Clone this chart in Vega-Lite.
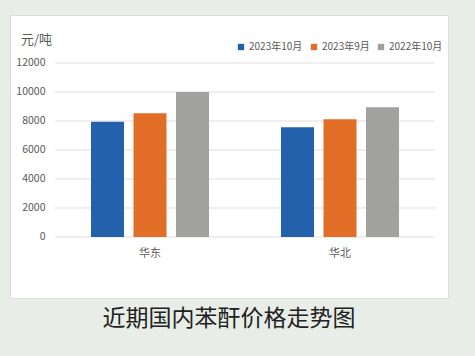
{
  "$schema": "https://vega.github.io/schema/vega-lite/v6.json",
  "width": 438,
  "height": 283,
  "autosize": {"type": "none"},
  "padding": {"left": 10, "top": 15, "right": 27, "bottom": 58},
  "background": "#E8EEE7",
  "config": {
    "font": "Noto Sans CJK SC",
    "view": {"fill": "#FFFFFF", "stroke": "#DCDCDC", "strokeWidth": 1}
  },
  "title": {
    "text": "近期国内苯酐价格走势图",
    "orient": "bottom",
    "anchor": "middle",
    "frame": "group",
    "offset": 10,
    "fontSize": 23,
    "fontWeight": "normal",
    "color": "#222222",
    "baseline": "top"
  },
  "datasets": {
    "prices": [
      {"region": "华东", "period": "2023年10月", "value": 7950},
      {"region": "华东", "period": "2023年9月", "value": 8530},
      {"region": "华东", "period": "2022年10月", "value": 10000},
      {"region": "华北", "period": "2023年10月", "value": 7570},
      {"region": "华北", "period": "2023年9月", "value": 8120},
      {"region": "华北", "period": "2022年10月", "value": 8950}
    ],
    "grid": [
      {"v": 0}, {"v": 2000}, {"v": 4000}, {"v": 6000}, {"v": 8000}, {"v": 10000}, {"v": 12000}
    ]
  },
  "encoding": {
    "x": {
      "field": "region",
      "type": "nominal",
      "scale": {"domain": ["华东", "华北"], "paddingInner": 0, "paddingOuter": 0.1526, "align": 0.776},
      "axis": {
        "title": null,
        "domain": false,
        "ticks": false,
        "tickSize": 0,
        "labelAngle": 0,
        "labelPadding": -45,
        "labelBaseline": "middle",
        "labelFontSize": 11,
        "labelColor": "#595959",
        "grid": false
      }
    }
  },
  "layer": [
    {
      "data": {"name": "grid"},
      "mark": {"type": "rule", "color": "#DEDEDE", "strokeWidth": 1},
      "encoding": {
        "x": {"datum": "华东", "type": "nominal", "bandPosition": 0},
        "x2": {"datum": "华北", "bandPosition": 1},
        "y": {
          "field": "v",
          "type": "quantitative",
          "scale": {"domain": [-4207, 15310], "nice": false, "zero": false},
          "axis": {
            "title": "元/吨",
            "titleAngle": 0,
            "titleX": 26,
            "titleY": 24,
            "titleAlign": "center",
            "titleBaseline": "middle",
            "titleFontSize": 13,
            "titleFontWeight": "normal",
            "titleColor": "#595959",
            "values": [0, 2000, 4000, 6000, 8000, 10000, 12000],
            "format": "d",
            "domain": false,
            "ticks": false,
            "tickSize": 0,
            "grid": false,
            "labelPadding": -35,
            "labelFontSize": 10.5,
            "labelColor": "#595959"
          }
        }
      }
    },
    {
      "data": {"name": "prices"},
      "mark": {"type": "bar"},
      "encoding": {
        "xOffset": {
          "field": "period",
          "type": "nominal",
          "sort": ["2023年10月", "2023年9月", "2022年10月"],
          "scale": {"paddingInner": 0.2235, "paddingOuter": 0.847}
        },
        "y": {"field": "value", "type": "quantitative"},
        "y2": {"datum": 0},
        "color": {
          "field": "period",
          "type": "nominal",
          "sort": ["2023年10月", "2023年9月", "2022年10月"],
          "scale": {
            "domain": ["2023年10月", "2023年9月", "2022年10月"],
            "range": ["#2361AC", "#E26D27", "#A1A1A0"]
          },
          "legend": {
            "title": null,
            "orient": "none",
            "direction": "horizontal",
            "legendX": 226,
            "legendY": 27,
            "symbolType": "square",
            "symbolSize": 40,
            "symbolStrokeWidth": 0,
            "labelFontSize": 10,
            "labelColor": "#595959",
            "labelOffset": 3,
            "columnPadding": 6
          }
        }
      }
    }
  ]
}
